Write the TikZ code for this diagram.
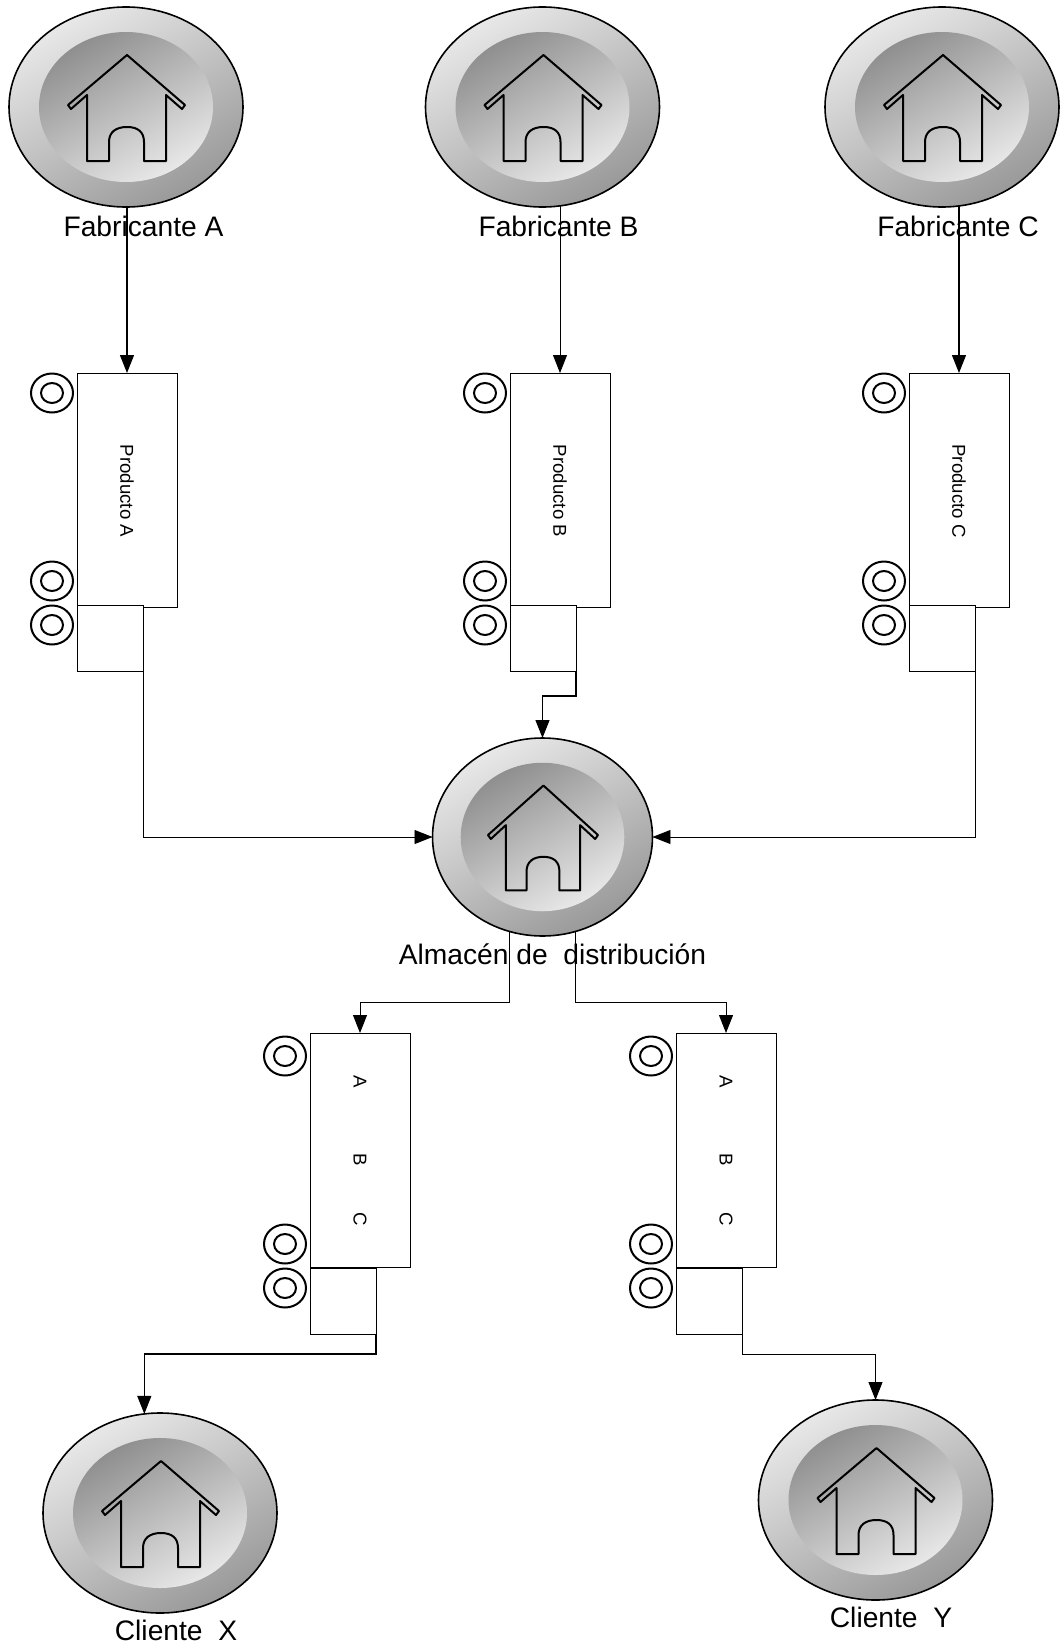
\documentclass[tikz,border=0pt]{standalone}
\usepackage{fontspec}
\setmainfont{Liberation Sans}
\usepackage{xcolor}
\usetikzlibrary{arrows.meta, shapes.geometric}

\begin{document}
\begin{tikzpicture}[x=1pt, y=-1pt,
    disc/.style={ellipse, draw=black, line width=1.6pt, transform shape, inner sep=0pt, outer sep=0pt, minimum width=234pt, minimum height=200pt, top color=black!9, bottom color=black!40, shading angle=30},
    cargobox/.style={rectangle, draw=black, line width=1pt, fill=white, inner sep=0pt, outer sep=0pt},
    cargotext/.style={rotate=-90, font=\fontsize{18.6}{20}\selectfont, inner sep=0pt},
    placetext/.style={anchor=base, font=\fontsize{28.2}{30}\selectfont, inner sep=0pt},
    dataflow/.style={-{Triangle[length=18pt, width=14pt]}, line width=1.2pt},
    pics/warehouse/.style={code={
        \node[disc] (-disc) at (0,0) {};
        \shade[top color=black!44, bottom color=black!9, shading angle=30] (0,0) ellipse (87 and 75);
        \draw[line width=2pt, line join=round] (-39,54) -- (-39,-12) -- (-55,2) -- (-58,-2) -- (1,-52) -- (59,-2) -- (56,2) -- (40,-12) -- (40,54) -- (18,54) -- (18,35)
            .. controls (18,25) and (12,20) .. (1,20) .. controls (-10,20) and (-17,25) .. (-17,35) -- (-17,54) -- cycle;
    }},
    pics/truck/.style n args={2}{code={
        \node[cargobox, minimum width=100pt, minimum height=234pt] (-body) at (50,117) {};
        \node[cargobox, minimum width=66pt, minimum height=66pt] (-cab) at (33,265+#2) {};
        \node[cargotext] (-label) at (50,118) {#1};
        \foreach \wheely in {20,208,252}
            \draw[line width=2pt, fill=white] (-25,\wheely+#2) ellipse (21 and 19.5) (-25,\wheely+#2) ellipse (11 and 10);
    }}]
    \useasboundingbox (0,0) rectangle (1063,1649);

    \pic (wa) at (126,107) {warehouse};
    \pic (wb) at (542.5,107) {warehouse};
    \pic (wc) at (942,107) {warehouse};
    \pic[xscale=.94, yscale=.99] (hub) at (542.5,837) {warehouse};
    \pic (cx) at (160,1513) {warehouse};
    \pic (cy) at (875.5,1500) {warehouse};

    \pic (ta) at (77,373) {truck={Producto A}{0}};
    \pic (tb) at (510,373) {truck={Producto B}{0}};
    \pic (tc) at (909,373) {truck={Producto C}{0}};
    \pic (tx) at (310,1033) {truck={A\hspace{65pt}B\hspace{47pt}C}{3}};
    \pic (ty) at (676,1033) {truck={A\hspace{65pt}B\hspace{47pt}C}{3}};

    \coordinate (levelhub) at (0,1002);
    \coordinate (levelb) at (0,696);
    \coordinate (levelclient) at (0,1354);

    \draw[dataflow] (ta-body.north |- wa-disc.south) -- (ta-body.north);
    \draw[dataflow, line width=.8pt] (tb-body.north |- wb-disc.280) -- (tb-body.north);
    \draw[dataflow] (tc-body.north |- wc-disc.280) -- (tc-body.north);
    \draw[dataflow, line width=.9pt] (ta-cab.south east) |- (hub-disc.west);
    \draw[dataflow] (tb-cab.south east) -- (tb-cab.south east |- levelb) -| (hub-disc.north);
    \draw[dataflow, line width=.9pt] (tc-cab.south east) |- (hub-disc.east);
    \draw[dataflow, line width=.9pt] (hub-disc.250) -- (hub-disc.250 |- levelhub) -| (tx-body.north);
    \draw[dataflow, line width=1pt] (hub-disc.290) -- (hub-disc.290 |- levelhub) -| (ty-body.north);
    \draw[dataflow, line width=1.1pt] (tx-cab.south east) -- (tx-cab.south east |- levelclient) -| (cx-disc.99);
    \draw[dataflow, line width=.9pt] (ty-cab.south east) -- (ty-cab.south east |- levelclient) -| (cy-disc.north);

    \node[placetext] (fabA) at (143.5,236) {Fabricante A};
    \node[placetext] (fabB) at (558.5,236) {Fabricante B};
    \node[placetext] (fabC) at (958,236) {Fabricante C};
    \node[placetext] (almacen) at (552.5,964) {Almacén de\ \ distribución};
    \node[placetext] (clienteX) at (176,1640) {Cliente\ \ X};
    \node[placetext] (clienteY) at (891,1627) {Cliente\ \ Y};
\end{tikzpicture}
\end{document}
